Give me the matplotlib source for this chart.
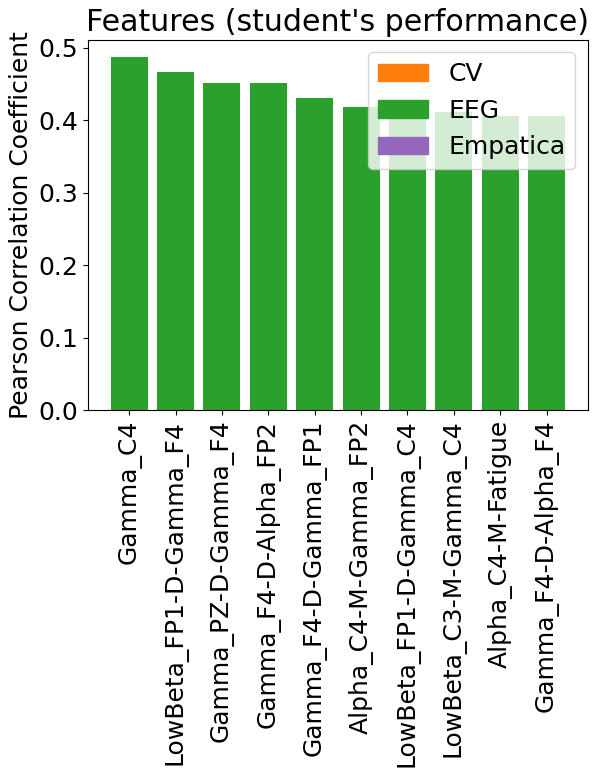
import matplotlib
matplotlib.use("Agg")
import matplotlib.pyplot as plt
from matplotlib.patches import Patch

features = ["Gamma_C4", "LowBeta_FP1-D-Gamma_F4", "Gamma_PZ-D-Gamma_F4", "Gamma_F4-D-Alpha_FP2",
            "Gamma_F4-D-Gamma_FP1", "Alpha_C4-M-Gamma_FP2", "LowBeta_FP1-D-Gamma_C4",
            "LowBeta_C3-M-Gamma_C4", "Alpha_C4-M-Fatigue", "Gamma_F4-D-Alpha_F4"]
values = [0.487, 0.467, 0.451, 0.451, 0.431, 0.419, 0.412, 0.411, 0.406, 0.406]
legend_labels = ["CV", "EEG", "Empatica"]
legend_colors = ["tab:orange", "tab:green", "tab:purple"]

plt.rcParams['font.size'] = 18
fig = plt.figure(figsize=(5.98, 7.78), dpi=100)
ax = fig.add_axes([0.147, 0.473, 0.836, 0.476])
ax.bar(features, values, color="tab:green")
ax.set_ylabel("Pearson Correlation Coefficient")
ax.set_title("Features (student's performance)")
ax.set_xticks(range(len(features)))
ax.set_xticklabels(features, rotation=90)
ax.set_yticks([0.0, 0.1, 0.2, 0.3, 0.4, 0.5])
handles = [Patch(color=c, label=l) for l, c in zip(legend_labels, legend_colors)]
ax.legend(handles=handles, loc="upper right")
fig.savefig("out.png", dpi=100)
